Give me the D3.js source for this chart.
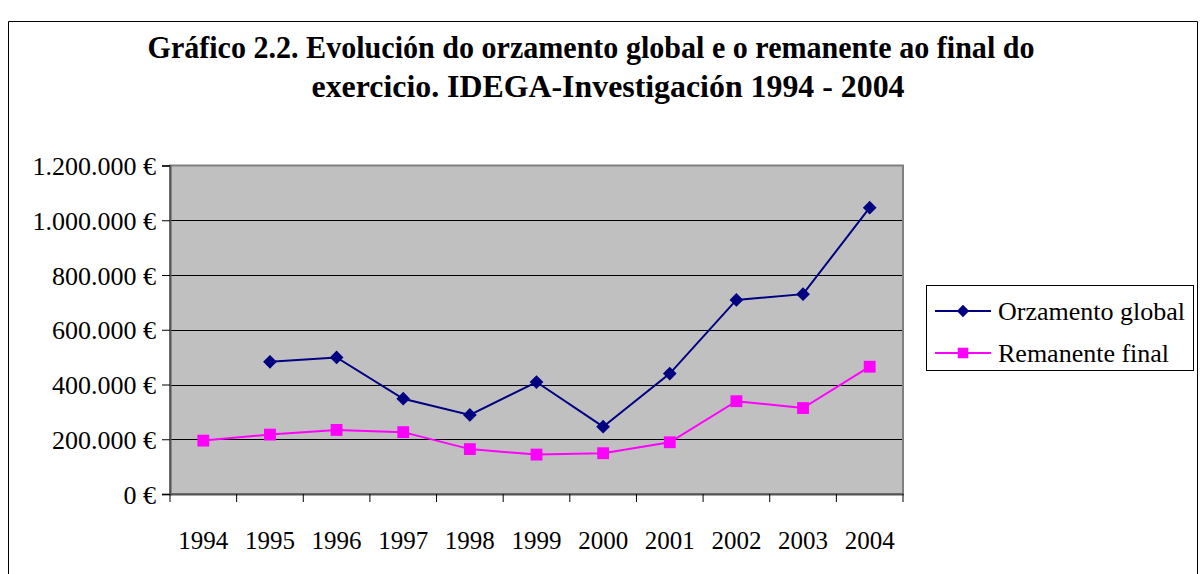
<!DOCTYPE html>
<html>
<head>
<meta charset="utf-8">
<script src="https://cdn.jsdelivr.net/npm/d3@7"></script>
<style>
  body { margin: 0; background: #fff; }
  text { font-family: "Liberation Serif", "Times New Roman", serif; fill: #000; }
</style>
</head>
<body>
<div id="chart"></div>
<script>
var years = ["1994", "1995", "1996", "1997", "1998", "1999", "2000", "2001", "2002", "2003", "2004"];
var orzamento = [null, 483000, 499000, 348000, 289000, 409000, 246000, 440000, 709000, 730000, 1046000];
var remanente = [195000, 217000, 234000, 226000, 164000, 144000, 149000, 189000, 339000, 314000, 465000];
var yTicks = [0, 200000, 400000, 600000, 800000, 1000000, 1200000];
var titleLines = ["Gráfico 2.2. Evolución do orzamento global e o remanente ao final do",
                  "exercicio. IDEGA-Investigación 1994 - 2004"];
var seriesNames = ["Orzamento global", "Remanente final"];

var W = 1202, H = 574;
var plot = {left: 170, right: 903, top: 165.5, bottom: 494};

var locale = d3.formatLocale({decimal: ",", thousands: ".", grouping: [3], currency: ["", " €"]});
var fmt = locale.format("$,.0f");

var svg = d3.select("#chart").append("svg")
    .attr("width", W)
    .attr("height", H);

// outer frame
svg.append("path")
    .attr("d", "M8.5," + H + "V21.5H1197.5V" + H)
    .attr("fill", "none")
    .attr("stroke", "#000")
    .attr("stroke-width", 1);

// title
svg.append("text").attr("x", 591).attr("y", 58)
    .attr("text-anchor", "middle").attr("font-size", 31).attr("font-weight", "bold")
    .attr("textLength", 887).attr("lengthAdjust", "spacingAndGlyphs")
    .text(titleLines[0]);
svg.append("text").attr("x", 608).attr("y", 97)
    .attr("text-anchor", "middle").attr("font-size", 31).attr("font-weight", "bold")
    .attr("textLength", 593).attr("lengthAdjust", "spacingAndGlyphs")
    .text(titleLines[1]);

var x = d3.scaleBand().domain(years).range([plot.left, plot.right]).padding(0);
var y = d3.scaleLinear().domain([0, 1200000]).range([plot.bottom, plot.top]);
var cx = function (i) { return x(years[i]) + x.bandwidth() / 2; };

// plot background
svg.append("rect")
    .attr("x", plot.left).attr("y", plot.top)
    .attr("width", plot.right - plot.left).attr("height", plot.bottom - plot.top)
    .attr("fill", "#c0c0c0");

// gridlines
svg.append("g").selectAll("line")
    .data(yTicks.slice(1, -1))
    .enter().append("line")
    .attr("x1", plot.left).attr("x2", plot.right)
    .attr("y1", function (d) { return Math.round(y(d)) + 0.5; })
    .attr("y2", function (d) { return Math.round(y(d)) + 0.5; })
    .attr("stroke", "#000").attr("stroke-width", 1);

// plot border
svg.append("rect")
    .attr("x", plot.left).attr("y", plot.top)
    .attr("width", plot.right - plot.left).attr("height", plot.bottom - plot.top)
    .attr("fill", "none").attr("stroke", "#808080").attr("stroke-width", 2);

// y axis
var yAxis = svg.append("g")
    .attr("transform", "translate(" + plot.left + ",0)")
    .call(d3.axisLeft(y).tickValues(yTicks).tickFormat(fmt).tickSize(8).tickPadding(6));
yAxis.select(".domain").attr("stroke", "#555").attr("stroke-width", 2);
yAxis.selectAll(".tick line").attr("stroke", "#000");
yAxis.selectAll("text").attr("font-size", 26).attr("font-family", "Liberation Serif").attr("dy", "0.35em");

// x axis: labels centred in bands, ticks on band edges
var xAxis = svg.append("g")
    .attr("transform", "translate(0," + plot.bottom + ")")
    .call(d3.axisBottom(x).tickSize(0).tickPadding(37));
xAxis.select(".domain").attr("stroke", "#555").attr("stroke-width", 2);
xAxis.selectAll("text").attr("font-size", 25).attr("font-family", "Liberation Serif");
svg.append("g").selectAll("line")
    .data(years.concat(["end"]))
    .enter().append("line")
    .attr("x1", function (d) { return d === "end" ? plot.right : x(d); })
    .attr("x2", function (d) { return d === "end" ? plot.right : x(d); })
    .attr("y1", plot.bottom).attr("y2", plot.bottom + 8)
    .attr("stroke", "#000");

// lines and markers
var series = [
    {name: seriesNames[0], values: orzamento, color: "#000080", symbol: d3.symbolDiamond2, size: 120},
    {name: seriesNames[1], values: remanente, color: "#ff00ff", symbol: d3.symbolSquare, size: 140}
];

var line = d3.line()
    .defined(function (d) { return d != null; })
    .x(function (d, i) { return cx(i); })
    .y(function (d) { return y(d); });

series.forEach(function (s) {
    svg.append("path")
        .datum(s.values)
        .attr("d", line)
        .attr("fill", "none")
        .attr("stroke", s.color)
        .attr("stroke-width", 2);
    svg.append("g").selectAll("path")
        .data(s.values.map(function (v, i) { return {v: v, i: i}; }).filter(function (d) { return d.v != null; }))
        .enter().append("path")
        .attr("d", d3.symbol().type(s.symbol).size(s.size))
        .attr("transform", function (d) { return "translate(" + cx(d.i) + "," + y(d.v) + ")"; })
        .attr("fill", s.color);
});

// legend
var legend = svg.append("g");
legend.append("rect")
    .attr("x", 926.5).attr("y", 285.5).attr("width", 267).attr("height", 85)
    .attr("fill", "#fff").attr("stroke", "#000").attr("stroke-width", 1);
series.forEach(function (s, i) {
    var ly = 311 + i * 42;
    legend.append("line")
        .attr("x1", 935).attr("x2", 991).attr("y1", ly).attr("y2", ly)
        .attr("stroke", s.color).attr("stroke-width", 2);
    legend.append("path")
        .attr("d", d3.symbol().type(s.symbol).size(s.size * 0.8))
        .attr("transform", "translate(963," + ly + ")")
        .attr("fill", s.color);
    legend.append("text")
        .attr("x", 998).attr("y", ly).attr("dy", "0.35em")
        .attr("font-size", 26)
        .text(s.name);
});
</script>
</body>
</html>
